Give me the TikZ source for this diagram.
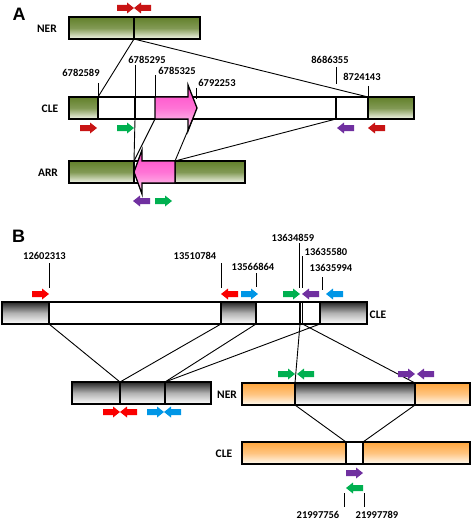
\documentclass[tikz,border=0pt]{standalone}
\usepackage{fontspec}
\setmainfont{Carlito}
\newfontfamily\panelfont{Liberation Sans}
\usetikzlibrary{positioning}

\definecolor{olv}{RGB}{98,128,42}
\definecolor{olvl}{RGB}{244,247,236}
\definecolor{pnkt}{RGB}{255,70,200}
\definecolor{pnkb}{RGB}{255,218,242}
\definecolor{orgt}{RGB}{255,165,60}
\definecolor{orgb}{RGB}{255,251,242}
\definecolor{ared}{RGB}{200,20,20}
\definecolor{bred}{RGB}{250,0,0}
\definecolor{agrn}{RGB}{0,176,80}
\definecolor{apur}{RGB}{112,48,160}
\definecolor{ablu}{RGB}{0,150,230}

\tikzset{
  seg/.style={draw,line width=1.3pt,inner sep=0pt,outer sep=0pt,anchor=north west,minimum height=22pt},
  grn/.style={top color=olv,bottom color=olvl,middle color=olv!80!white},
  gry/.style={top color=black!85,bottom color=white,middle color=black!30},
  org/.style={top color=orgt,bottom color=orgb,middle color=orgt!65!white},
  wht/.style={fill=white},
  pnk/.style={draw,line width=1.3pt,top color=pnkt,bottom color=pnkb,middle color=pnkt!75!white},
  lnk/.style={line width=0.9pt},
  tick/.style={line width=0.9pt},
  num/.style={font=\bfseries\fontsize{10.5}{12}\selectfont,inner sep=0pt},
  lbl/.style={font=\bfseries\fontsize{11.5}{13}\selectfont,inner sep=0pt},
  panel/.style={font=\panelfont\bfseries\fontsize{18}{20}\selectfont,inner sep=0pt},
  rblk/.pic={\fill (0,-3) -- (10,-3) -- (10,-5.5) -- (17,0) -- (10,5.5) -- (10,3) -- (0,3) -- cycle;},
  lblk/.pic={\fill (17,-3) -- (7,-3) -- (7,-5.5) -- (0,0) -- (7,5.5) -- (7,3) -- (17,3) -- cycle;}
}

\begin{document}
\begin{tikzpicture}[x=1pt,y=-1pt]
\useasboundingbox (0,0) rectangle (472,524);

% panel A
\node[panel] (pA) at (19,14) {A};
\node[lbl] (lNERa) at (47,29) {NER};
\node[lbl] (lCLEa) at (50,109) {CLE};
\node[lbl] (lARR) at (48,173) {ARR};

\node[seg,grn,minimum width=65pt] (nerL) at (69,17) {};
\node[seg,grn,minimum width=66pt] (nerR) at (134,17) {};

\node[seg,grn,minimum width=29pt] (cleG1) at (69,97) {};
\node[seg,wht,minimum width=37pt] (cleW1) at (98,97) {};
\node[seg,wht,minimum width=201pt] (cleW2) at (135,97) {};
\node[seg,wht,minimum width=32pt] (cleW3) at (336,97) {};
\node[seg,grn,minimum width=46pt] (cleG2) at (368,97) {};
\draw[pnk] (155,97) -- (188,97) -- (188,85) -- (197,108) -- (188,131) -- (188,119) -- (155,119) -- cycle;
\coordinate (pkA1) at (155,119);
\coordinate (pkA2) at (192.7,119);

\node[seg,grn,minimum width=65pt] (arrG1) at (69,161) {};
\node[seg,wht,minimum width=41pt] (arrW) at (134,161) {};
\node[seg,grn,minimum width=70pt] (arrG2) at (175,161) {};
\draw[pnk] (175,161) -- (142,161) -- (142,150) -- (134,172) -- (142,194) -- (142,183) -- (175,183) -- cycle;

\draw[lnk] (nerL.south east) -- (cleG1.north east);
\draw[lnk] (nerL.south east) -- (cleG2.north west);
\draw[lnk] (cleW1.south east) -- (arrG1.north east);
\draw[lnk] (pkA1) -- (arrG1.north east);
\draw[lnk] (pkA2) -- (arrG2.north west);
\draw[lnk] (cleW3.south west) -- (arrG2.north west);

\node[num] (n1) at (81,73) {6782589};
\node[num] (n2) at (147,60) {6785295};
\node[num] (n3) at (177,71) {6785325};
\node[num] (n4) at (217,83) {6792253};
\node[num] (n5) at (330,60) {8686355};
\node[num] (n6) at (362,77) {8724143};
\draw[tick] (98,83) -- (cleG1.north east);
\draw[tick] (135,65) -- (cleW1.north east);
\draw[tick] (155,75) -- (155,97);
\draw[tick] (196.5,88) -- (196.5,99);
\draw[tick] (336.5,67) -- (336.5,84);
\draw[tick] (368,86) -- (cleG2.north west);

\pic[ared] at (117,8) {rblk};
\pic[ared] at (134,8) {lblk};
\pic[ared] at (80,128) {rblk};
\pic[agrn] at (117,128) {rblk};
\pic[apur] at (337,128) {lblk};
\pic[ared] at (368,128) {lblk};
\pic[apur] at (133,201) {lblk};
\pic[agrn] at (155,201) {rblk};

% panel B
\node[panel] (pB) at (18.5,236) {B};

\node[seg,gry,minimum width=47pt] (bG1) at (2,302) {};
\node[seg,wht,minimum width=172pt] (bW1) at (49,302) {};
\node[seg,gry,minimum width=35pt] (bG2) at (221,302) {};
\node[seg,wht,minimum width=44pt] (bW2) at (256,302) {};
\node[seg,wht,minimum width=2.5pt] (bW3) at (300,302) {};
\node[seg,wht,minimum width=17.5pt] (bW4) at (302.5,302) {};
\node[seg,gry,minimum width=47pt] (bG3) at (320,302) {};
\node[lbl] (lCLEb) at (378,315) {CLE};

\node[seg,gry,minimum width=48pt] (nG1) at (72,382) {};
\node[seg,gry,minimum width=45pt] (nG2) at (120,382) {};
\node[seg,gry,minimum width=46pt] (nG3) at (165,382) {};
\node[lbl] (lNERb) at (227,395) {NER};

\node[seg,org,minimum width=53pt] (rO1) at (242,383) {};
\node[seg,gry,minimum width=120pt] (rG) at (295,383) {};
\node[seg,org,minimum width=55pt] (rO2) at (415,383) {};

\node[seg,org,minimum width=104pt] (cO1) at (242,442) {};
\node[seg,wht,minimum width=17pt] (cW) at (346,442) {};
\node[seg,org,minimum width=107pt] (cO2) at (363,442) {};
\node[lbl] (lCLEc) at (224,454) {CLE};

\draw[lnk] (bG1.south east) -- (nG2.north west);
\draw[lnk] (bW1.south east) -- (nG2.north west);
\draw[lnk] (bG2.south east) -- (nG3.north west);
\draw[lnk] (bW4.south east) -- (nG3.north west);
\draw[lnk] (bW3.south west) -- (rG.north west);
\draw[lnk] (bW3.south east) -- (rO2.north west);
\draw[lnk] (rG.south west) -- (cW.north west);
\draw[lnk] (rG.south east) -- (cW.north east);

\node[num] (m1) at (44.5,256) {12602313};
\node[num] (m2) at (195,256) {13510784};
\node[num] (m3) at (253,267) {13566864};
\node[num] (m4) at (293,238) {13634859};
\node[num] (m5) at (326,252) {13635580};
\node[num] (m6) at (331,268) {13635994};
\node[num] (m7) at (318,515) {21997756};
\node[num] (m8) at (377,515) {21997789};
\draw[tick] (49,263) -- (49,288);
\draw[tick] (221,263) -- (221,288);
\draw[tick] (256,273) -- (256,287);
\draw[tick] (299.5,243) -- (299.5,288);
\draw[tick] (302.5,256) -- (302.5,288);
\draw[tick] (322,277) -- (322,290);
\draw[tick] (344,493) -- (344,507);
\draw[tick] (364,493) -- (364,507);

\pic[bred] at (32,294) {rblk};
\pic[bred] at (221,294) {lblk};
\pic[ablu] at (241,294) {rblk};
\pic[agrn] at (283,294) {rblk};
\pic[apur] at (302,294) {lblk};
\pic[ablu] at (326,294) {lblk};
\pic[bred] at (103,412) {rblk};
\pic[bred] at (120,412) {lblk};
\pic[ablu] at (147,412) {rblk};
\pic[ablu] at (164,412) {lblk};
\pic[agrn] at (278,374) {rblk};
\pic[agrn] at (297,374) {lblk};
\pic[apur] at (398,374) {rblk};
\pic[apur] at (417,374) {lblk};
\pic[apur] at (346,473) {rblk};
\pic[agrn] at (346,488) {lblk};
\end{tikzpicture}
\end{document}
